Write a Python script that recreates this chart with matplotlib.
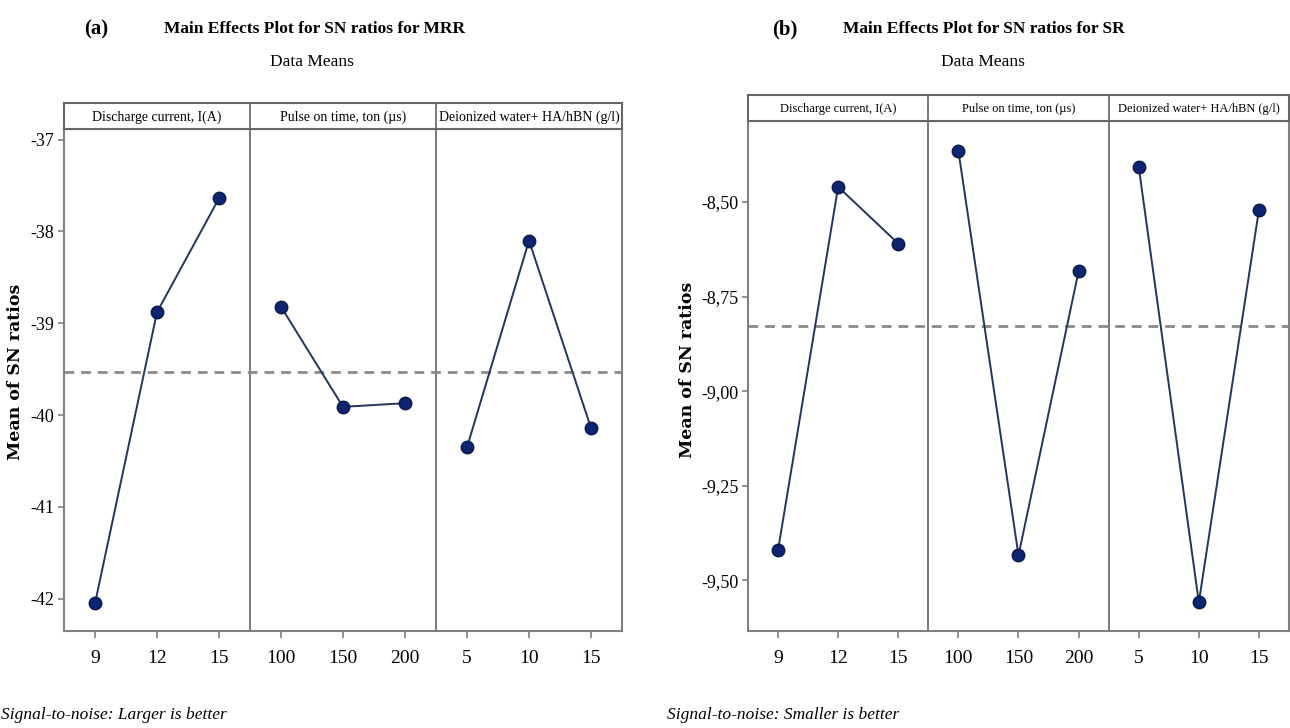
import matplotlib
matplotlib.use("Agg")
import matplotlib.pyplot as plt
import numpy as np

# factor levels (shared by both panels)
levels_current = ["9", "12", "15"]
levels_ton = ["100", "150", "200"]
levels_conc = ["5", "10", "15"]
factor_names = ["Discharge current, I(A)", "Pulse on time, ton (\u00b5s)",
                "Deionized water+ HA/hBN (g/l)"]

# mean SN ratios
mrr_current = [-42.05, -38.88, -37.64]
mrr_ton = [-38.82, -39.91, -39.87]
mrr_conc = [-40.35, -38.10, -40.14]

sr_current = [-9.42, -8.46, -8.61]
sr_ton = [-8.365, -9.434, -8.683]
sr_conc = [-8.407, -9.558, -8.521]

mrr_yticks = [-42, -41, -40, -39, -38, -37]
sr_yticks = [-9.50, -9.25, -9.00, -8.75, -8.50]

W, H = 1290, 728
SERIF = "Liberation Serif"
LINE_C = "#23345e"
DOT_C = "#0d2470"
FRAME_C = "#808080"


def rect(left, top, right, bottom):
    return [left / W, 1 - bottom / H, (right - left) / W, (bottom - top) / H]


def draw_panel(fig, plot_box, head_box, series, ylim, yticks, ylabels,
               head_size):
    ax = fig.add_axes(rect(*plot_box))
    levels = [levels_current, levels_ton, levels_conc]
    xt, xl = [], []
    for g, vals in enumerate(series):
        xs = [g * 3 + 1, g * 3 + 2, g * 3 + 3]
        ax.plot(xs, vals, color=LINE_C, lw=1.4, zorder=3)
        ax.plot(xs, vals, "o", ms=9, mfc=DOT_C, mec="#0a1a4a", mew=1,
                zorder=4)
        xt += xs
        xl += levels[g]
    grand = np.mean([v for s in series for v in s])
    ax.axhline(grand, color="#8a8a8a", lw=2, ls=(0, (3.5, 2.5)), zorder=2)
    for xv in (3.5, 6.5):
        ax.axvline(xv, color="#555555", lw=1.1, zorder=1)
    ax.set_xlim(0.5, 9.5)
    ax.set_ylim(*ylim)
    ax.set_xticks(xt)
    ax.set_xticklabels(xl, fontfamily=SERIF, fontsize=14)
    ax.set_yticks(yticks)
    ax.set_yticklabels(ylabels, fontfamily=SERIF, fontsize=13)
    ax.tick_params(axis="y", direction="out", length=4, width=1.2,
                   color=FRAME_C, pad=3)
    ax.tick_params(axis="x", direction="out", length=5, width=1.2,
                   color=FRAME_C, pad=9)
    for sp in ax.spines.values():
        sp.set_color(FRAME_C)
        sp.set_linewidth(1.5)

    hx = fig.add_axes(rect(*head_box))
    hx.set_xlim(0.5, 9.5)
    hx.set_ylim(0, 1)
    hx.set_xticks([])
    hx.set_yticks([])
    for sp in hx.spines.values():
        sp.set_color("#666666")
        sp.set_linewidth(1.5)
    for xv in (3.5, 6.5):
        hx.axvline(xv, color="#555555", lw=1.1)
    for g, name in enumerate(factor_names):
        hx.text(g * 3 + 2, 0.45, name, ha="center", va="center",
                fontfamily=SERIF, fontsize=head_size)
    return ax


fig = plt.figure(figsize=(W / 100, H / 100), dpi=100)

# panel (a): MRR
draw_panel(fig, (64, 128.5, 622, 631), (64, 103, 622, 128.5),
           [mrr_current, mrr_ton, mrr_conc], (-42.35, -36.88),
           mrr_yticks, [f"{t:d}" for t in mrr_yticks], 10)
fig.text(96 / W, 1 - 29 / H, "(a)", ha="center", va="center",
         fontfamily=SERIF, fontweight="bold", fontsize=15)
fig.text(315 / W, 1 - 29 / H, "Main Effects Plot for SN ratios for MRR",
         ha="center", va="center", fontfamily=SERIF, fontweight="bold",
         fontsize=12.5)
fig.text(312 / W, 1 - 62 / H, "Data Means", ha="center", va="center",
         fontfamily=SERIF, fontsize=12.5)
fig.text(16 / W, 1 - 372 / H, "Mean of SN ratios", rotation=90,
         ha="center", va="center", fontfamily="DejaVu Serif",
         fontweight="bold", fontsize=12.5)
fig.text(1 / W, 1 - 715 / H, "Signal-to-noise: Larger is better",
         ha="left", va="center", fontfamily=SERIF, fontstyle="italic",
         fontsize=12.5)

# panel (b): SR
draw_panel(fig, (748, 121, 1289, 631), (748, 95, 1289, 121),
           [sr_current, sr_ton, sr_conc], (-9.634, -8.286),
           sr_yticks, [f"{t:.2f}".replace(".", ",") for t in sr_yticks], 9)
fig.text(785 / W, 1 - 29 / H, "(b)", ha="center", va="center",
         fontfamily=SERIF, fontweight="bold", fontsize=15)
fig.text(984 / W, 1 - 29 / H, "Main Effects Plot for SN ratios for SR",
         ha="center", va="center", fontfamily=SERIF, fontweight="bold",
         fontsize=12.5)
fig.text(983 / W, 1 - 62 / H, "Data Means", ha="center", va="center",
         fontfamily=SERIF, fontsize=12.5)
fig.text(687 / W, 1 - 370 / H, "Mean of SN ratios", rotation=90,
         ha="center", va="center", fontfamily="DejaVu Serif",
         fontweight="bold", fontsize=12.5)
fig.text(667 / W, 1 - 715 / H, "Signal-to-noise: Smaller is better",
         ha="left", va="center", fontfamily=SERIF, fontstyle="italic",
         fontsize=12.5)

fig.savefig("out.png", dpi=100)
